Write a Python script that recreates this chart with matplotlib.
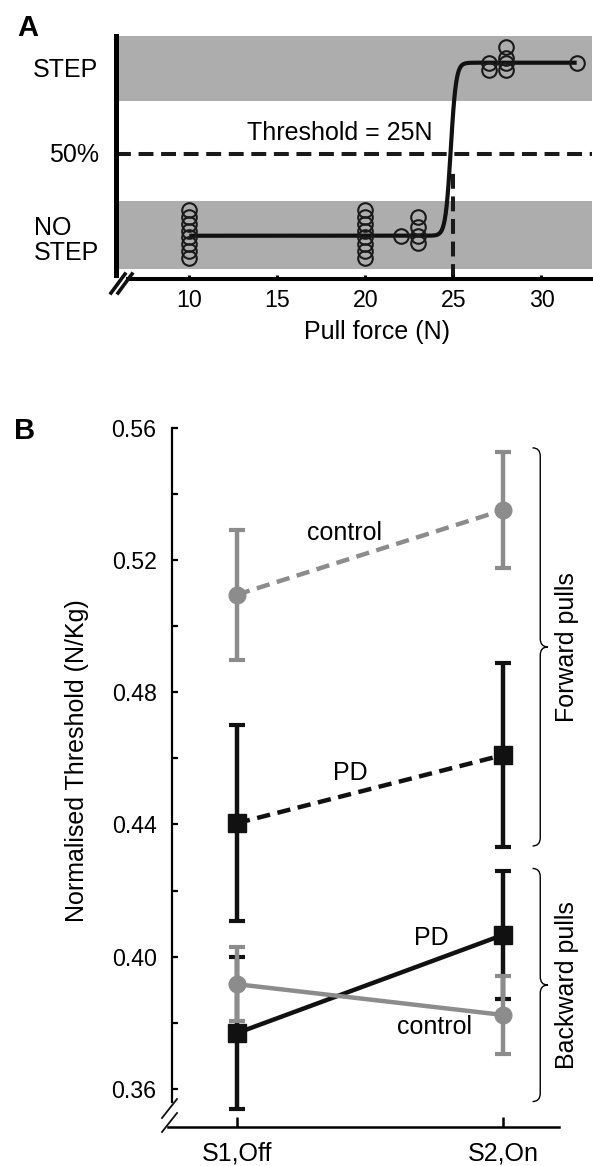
import numpy as np
import matplotlib.pyplot as plt
from matplotlib.path import Path
from matplotlib.patches import PathPatch
from matplotlib.lines import Line2D

plt.rcParams['font.family'] = ['Liberation Sans', 'DejaVu Sans']

# ── Panel A data: pull trials (0 = no step, 1 = step, stacked for display) ──
force_nostep = [10] * 8 + [20] * 8 + [22] + [23] * 4
resp_nostep = ([0.15, 0.11, 0.07, 0.03, -0.01, -0.05, -0.09, -0.13] * 2
               + [0.0] + [0.11, 0.05, 0.0, -0.04])
force_step = [27, 27, 28, 28, 28, 28, 32]
resp_step = [1.0, 0.955, 1.09, 1.03, 1.0, 0.955, 1.0]
fit_x0, fit_slope = 24.85, 0.15      # psychometric fit
fit_range = (10, 32)
threshold = 25
xticks_a = [10, 15, 20, 25, 30]

# ── Panel B data ─────────────────────────────────────────────────────────────
sessions = ['S1,Off', 'S2,On']
ctrl_fwd = [0.5095, 0.5351]
ctrl_fwd_err = [0.0197, 0.0175]
pd_fwd = [0.4404, 0.4610]
pd_fwd_err = [0.0297, 0.0277]
pd_bwd = [0.3769, 0.4066]
pd_bwd_err = [0.0230, 0.0194]
ctrl_bwd = [0.3917, 0.3824]
ctrl_bwd_err = [0.0111, 0.0118]

W, H = 593, 1166
fig = plt.figure(figsize=(W / 100, H / 100), dpi=100)
GREY = '#8c8c8c'
BAND = '#adadad'
FS = 18      # annotation / label text
FS_TICK = 16.7


def px_axes(l, t, r, b):
    return fig.add_axes([l / W, 1 - b / H, (r - l) / W, (b - t) / H])


# ── Panel A ──────────────────────────────────────────────────────────────────
axA = px_axes(116, 35.7, 592, 279)
xlo, xhi = 5.84, 32.87
ylo, yhi = -0.25, 1.156
axA.set_xlim(xlo, xhi)
axA.set_ylim(ylo, yhi)
axA.axhspan(0.78, yhi, color=BAND, lw=0, zorder=0)
axA.axhspan(-0.19, 0.2, color=BAND, lw=0, zorder=0)
axA.axhline(0.47, color='#1a1a1a', lw=2.9, dashes=(3.7, 1.9), zorder=1)
axA.plot([threshold, threshold], [ylo, 0.386], color='#1a1a1a', lw=2.9,
         dashes=(3.7, 1.9), zorder=1)

xs = np.linspace(*fit_range, 400)
axA.plot(xs, 1 / (1 + np.exp(-(xs - fit_x0) / fit_slope)), color='#111111',
         lw=3.0, zorder=3, solid_capstyle='butt')
axA.plot(force_nostep, resp_nostep, 'o', ms=10.5, mfc='none', mec='#1a1a1a',
         mew=1.5, zorder=4)
axA.plot(force_step, resp_step, 'o', ms=10.5, mfc='none', mec='#1a1a1a',
         mew=1.5, zorder=4)

axA.text(18.56, 0.594, 'Threshold = 25N', fontsize=FS, ha='center', va='center')
lab_tr = axA.get_yaxis_transform()
axA.text(-0.038, 0.958, 'STEP', transform=lab_tr, fontsize=FS, ha='right', va='center')
axA.text(-0.036, 0.466, '50%', transform=lab_tr, fontsize=FS, ha='right', va='center')
axA.text(-0.172, -0.025, 'NO\nSTEP', transform=lab_tr, fontsize=FS, ha='left',
         va='center', linespacing=1.05)

for s in ['top', 'right']:
    axA.spines[s].set_visible(False)
axA.spines['left'].set_linewidth(3.6)
axA.spines['left'].set_bounds(-0.225, yhi)
axA.spines['bottom'].set_linewidth(2.9)
axA.spines['bottom'].set_bounds(6.5, xhi)
axA.set_yticks([])
axA.set_xticks(xticks_a)
axA.tick_params(axis='x', direction='in', length=3, width=2.2, labelsize=FS_TICK, pad=7)
axA.set_xlabel('Pull force (N)', fontsize=FS)
axA.xaxis.set_label_coords(0.548, -0.17)
for dx in (0, 7):
    fig.add_artist(Line2D([(111 + dx) / W, (125 + dx) / W],
                          [1 - 293 / H, 1 - 274 / H], color='#111111', lw=2.6))

# ── Panel B ──────────────────────────────────────────────────────────────────
axB = px_axes(168, 427.7, 559, 1126.7)
axB.set_xlim(-0.259, 1.2105)
axB.set_ylim(0.3486, 0.56)
xpos = np.arange(len(sessions))

eb = dict(lw=3.2, elinewidth=3.2, capsize=5.5, capthick=3.0)
axB.errorbar(xpos, pd_fwd, yerr=pd_fwd_err, color='#111111', marker='s', ms=13,
             dashes=(3, 1.7), zorder=3, **eb)
axB.errorbar(xpos, pd_bwd, yerr=pd_bwd_err, color='#111111', marker='s', ms=13,
             zorder=3, **eb)
axB.errorbar(xpos, ctrl_fwd, yerr=ctrl_fwd_err, color=GREY, marker='o', ms=12,
             dashes=(3, 1.7), zorder=4, **eb)
axB.errorbar(xpos, ctrl_bwd, yerr=ctrl_bwd_err, color=GREY, marker='o', ms=12,
             zorder=4, **eb)

axB.text(0.406, 0.5282, 'control', fontsize=FS, ha='center', va='center')
axB.text(0.425, 0.4556, 'PD', fontsize=FS, ha='center', va='center')
axB.text(0.729, 0.4057, 'PD', fontsize=FS, ha='center', va='center')
axB.text(0.744, 0.3788, 'control', fontsize=FS, ha='center', va='center')


def brace(ax, x0, x1, ytop, ybot, r=0.0025):
    xm = (x0 + x1) / 2
    ymid = (ytop + ybot) / 2
    verts = [(x0, ytop), (xm, ytop), (xm, ytop - r),
             (xm, ymid + r), (xm, ymid), (x1, ymid),
             (xm, ymid), (xm, ymid - r),
             (xm, ybot + r), (xm, ybot), (x0, ybot)]
    codes = [Path.MOVETO, Path.CURVE3, Path.CURVE3,
             Path.LINETO, Path.CURVE3, Path.CURVE3,
             Path.CURVE3, Path.CURVE3,
             Path.LINETO, Path.CURVE3, Path.CURVE3]
    ax.add_patch(PathPatch(Path(verts, codes), fc='none', ec='black', lw=1.0,
                           clip_on=False))


brace(axB, 1.111, 1.169, 0.5539, 0.4335)
brace(axB, 1.111, 1.169, 0.4267, 0.3562)
axB.text(1.241, 0.4937, 'Forward pulls', rotation=90, fontsize=FS,
         ha='center', va='center')
axB.text(1.241, 0.3914, 'Backward pulls', rotation=90, fontsize=FS,
         ha='center', va='center')

for s in ['top', 'right']:
    axB.spines[s].set_visible(False)
axB.spines['left'].set_position(('data', -0.2444))
axB.spines['left'].set_bounds(0.3561, 0.56)
axB.spines['left'].set_linewidth(1.6)
axB.spines['bottom'].set_linewidth(1.8)
axB.set_xticks(xpos)
axB.set_xticklabels(sessions)
axB.set_yticks([0.36, 0.40, 0.44, 0.48, 0.52, 0.56])
axB.set_yticks([0.38, 0.42, 0.46, 0.50, 0.54], minor=True)
axB.yaxis.set_major_formatter(plt.FormatStrFormatter('%.2f'))
axB.tick_params(axis='y', which='both', direction='in', length=4, width=1.6,
                labelsize=FS_TICK, pad=11)
axB.tick_params(axis='x', direction='in', length=7.5, width=1.8,
                labelsize=FS, pad=11)
fig.text(77.5 / W, 1 - 761 / H, 'Normalised Threshold (N/Kg)', rotation=90,
         fontsize=FS, ha='center', va='center')
for dy in (0, 14):
    fig.add_artist(Line2D([162 / W, 177 / W],
                          [1 - (1118 + dy) / H, 1 - (1099 + dy) / H],
                          color='#111111', lw=1.3))

fig.text(28 / W, 1 - 28 / H, 'A', fontsize=21, fontweight='bold',
         ha='center', va='center')
fig.text(25 / W, 1 - 431 / H, 'B', fontsize=21, fontweight='bold',
         ha='center', va='center')

fig.savefig('out.png', dpi=100)
